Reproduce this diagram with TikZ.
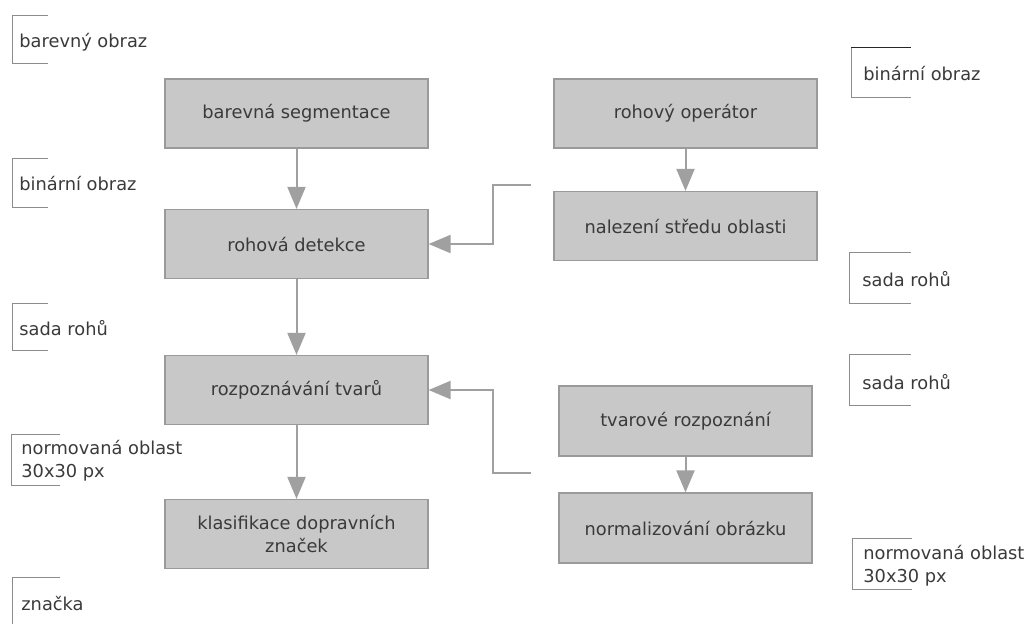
\documentclass[tikz,border=0pt]{standalone}
\usepackage{fontspec}
\setmainfont{DejaVu Sans}
\usetikzlibrary{arrows.meta,positioning}
\definecolor{boxfill}{HTML}{C8C8C8}
\definecolor{boxline}{HTML}{9A9A9A}
\definecolor{arrowgray}{HTML}{A0A0A0}
\definecolor{textgray}{HTML}{3A3A3A}
\definecolor{brkgray}{HTML}{8C8C8C}

\begin{document}
\begin{tikzpicture}[x=0.5pt,y=-0.5pt,
  every node/.style={font=\fontsize{8.9}{11.5}\selectfont, text=textgray},
  krok/.style={draw=boxline, fill=boxfill, line width=0.6pt, minimum width=131.5pt, minimum height=34.5pt, align=center},
  sipka/.style={draw=arrowgray, line width=1pt, -{Triangle[length=11pt,width=9pt]}},
  popis/.style={anchor=west, align=left, inner sep=0pt},
  zavorka/.style={draw=brkgray, line width=0.5pt}]
\useasboundingbox (0,0) rectangle (1032,623);
% left column
\node[krok] (seg) at (296.5,113.5) {barevná segmentace};
\node[krok] (det) at (296.5,244) {rohová detekce};
\node[krok] (tvar) at (296.5,390) {rozpoznávání tvarů};
\node[krok] (klas) at (296.5,534) {klasifikace dopravních\\značek};
\draw[sipka] (seg) -- (det);
\draw[sipka] (det) -- (tvar);
\draw[sipka] (tvar) -- (klas);
% right column
\node[krok] (oper) at (685.5,113.5) {rohový operátor};
\node[krok] (stred) at (685.5,226) {nalezení středu oblasti};
\node[krok, minimum width=126.5pt, minimum height=35pt] (rozp) at (685.5,421) {tvarové rozpoznání};
\node[krok, minimum width=126.5pt, minimum height=35pt] (norm) at (685.5,528) {normalizování obrázku};
\draw[sipka] (oper) -- (stred);
\draw[sipka] (rozp) -- (norm);
% feedback lines
\coordinate (vstup1) at (531,185);
\coordinate (vstup2) at (531,473);
\draw[sipka] (vstup1) -- ++(-38,0) |- (det.east);
\draw[sipka] (vstup2) -- ++(-38,0) |- (tvar.east);
% left labels
\node[popis] (barevny) at (19,42) {barevný obraz};
\draw[zavorka] (48,15) -| (12,63) -- (48,63);
\node[popis] (binarL) at (19,183) {binární obraz};
\draw[zavorka] (48,158) -| (12,207) -- (48,207);
\node[popis] (rohyL) at (19,328) {sada rohů};
\draw[zavorka] (48,303) -| (12,350) -- (48,350);
\node[popis] (normL) at (21,461) {normovaná oblast\\30x30 px};
\draw[zavorka] (60,434) -| (11,485) -- (60,485);
\node[popis] (znacka) at (21,603) {značka};
\draw[zavorka] (60,577) -| (12,625);
% right labels
\node[popis] (binarR) at (863,73) {binární obraz};
\draw[zavorka] (851,47) -- (851,97) -- (911,97);
\draw[zavorka, draw=black!85] (851,47) -- (911,47);
\node[popis] (rohyR1) at (862,279) {sada rohů};
\draw[zavorka] (911,252) -| (849,303) -- (911,303);
\node[popis] (rohyR2) at (862,382) {sada rohů};
\draw[zavorka] (911,354) -| (849,405) -- (911,405);
\node[popis] (normR) at (863,566) {normovaná oblast\\30x30 px};
\draw[zavorka] (912,538) -| (852,589) -- (912,589);
\end{tikzpicture}
\end{document}
